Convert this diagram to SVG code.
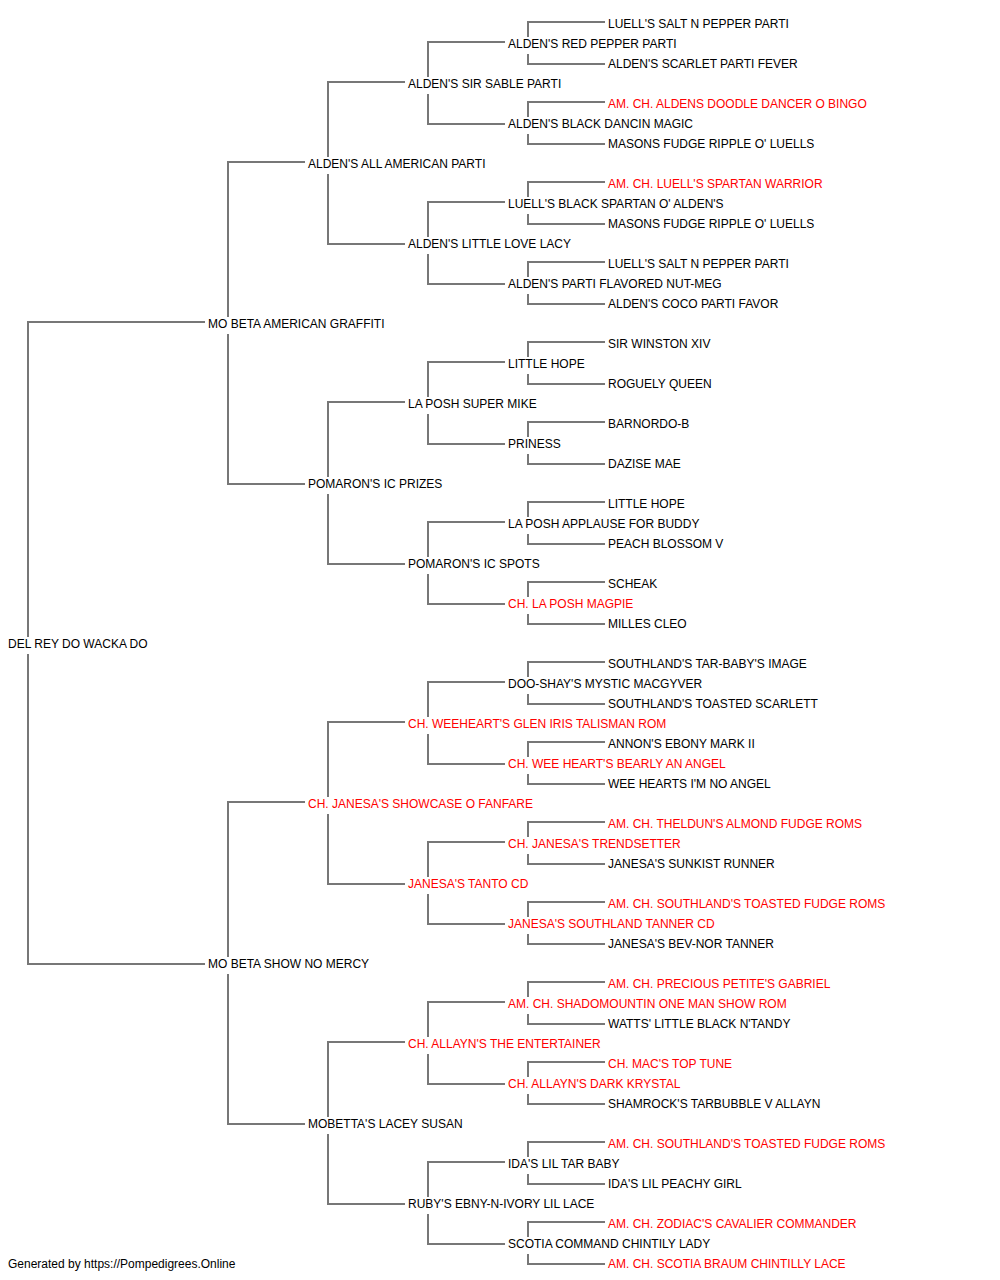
<svg xmlns="http://www.w3.org/2000/svg" width="1000" height="1280" viewBox="0 0 1000 1280">
<style>
text{font-family:"Liberation Sans",Arial,sans-serif;font-size:12px;fill:#000}
text.ch{fill:#ff0000}
.ln{fill:none;stroke:#777;stroke-width:2}
</style>
<rect width="1000" height="1280" fill="#fff"/>
<g id="connectors" class="ln">
<path d="M205 322H28V637M28 654V964H205"/>
<path d="M305 162H228V317M228 334V484H305"/>
<path d="M305 802H228V957M228 974V1124H305"/>
<path d="M405 82H328V157M328 174V244H405"/>
<path d="M405 402H328V477M328 494V564H405"/>
<path d="M405 722H328V797M328 814V884H405"/>
<path d="M405 1042H328V1117M328 1134V1204H405"/>
<path d="M505 42H428V77M428 94V124H505"/>
<path d="M505 202H428V237M428 254V284H505"/>
<path d="M505 362H428V397M428 414V444H505"/>
<path d="M505 522H428V557M428 574V604H505"/>
<path d="M505 682H428V717M428 734V764H505"/>
<path d="M505 842H428V877M428 894V924H505"/>
<path d="M505 1002H428V1037M428 1054V1084H505"/>
<path d="M505 1162H428V1197M428 1214V1244H505"/>
<path d="M605 22H528V37M528 54V64H605"/>
<path d="M605 102H528V117M528 134V144H605"/>
<path d="M605 182H528V197M528 214V224H605"/>
<path d="M605 262H528V277M528 294V304H605"/>
<path d="M605 342H528V357M528 374V384H605"/>
<path d="M605 422H528V437M528 454V464H605"/>
<path d="M605 502H528V517M528 534V544H605"/>
<path d="M605 582H528V597M528 614V624H605"/>
<path d="M605 662H528V677M528 694V704H605"/>
<path d="M605 742H528V757M528 774V784H605"/>
<path d="M605 822H528V837M528 854V864H605"/>
<path d="M605 902H528V917M528 934V944H605"/>
<path d="M605 982H528V997M528 1014V1024H605"/>
<path d="M605 1062H528V1077M528 1094V1104H605"/>
<path d="M605 1142H528V1157M528 1174V1184H605"/>
<path d="M605 1222H528V1237M528 1254V1264H605"/>
</g>
<g id="n0"><text x="8" y="648">DEL REY DO WACKA DO</text></g>
<g id="n1"><text x="208" y="328">MO BETA AMERICAN GRAFFITI</text></g>
<g id="n2"><text x="208" y="968">MO BETA SHOW NO MERCY</text></g>
<g id="n3"><text x="308" y="168">ALDEN'S ALL AMERICAN PARTI</text></g>
<g id="n4"><text x="308" y="488">POMARON'S IC PRIZES</text></g>
<g id="n5"><text x="308" y="808" class="ch">CH. JANESA'S SHOWCASE O FANFARE</text></g>
<g id="n6"><text x="308" y="1128">MOBETTA'S LACEY SUSAN</text></g>
<g id="n7"><text x="408" y="88">ALDEN'S SIR SABLE PARTI</text></g>
<g id="n8"><text x="408" y="248">ALDEN'S LITTLE LOVE LACY</text></g>
<g id="n9"><text x="408" y="408">LA POSH SUPER MIKE</text></g>
<g id="n10"><text x="408" y="568">POMARON'S IC SPOTS</text></g>
<g id="n11"><text x="408" y="728" class="ch">CH. WEEHEART'S GLEN IRIS TALISMAN ROM</text></g>
<g id="n12"><text x="408" y="888" class="ch">JANESA'S TANTO CD</text></g>
<g id="n13"><text x="408" y="1048" class="ch">CH. ALLAYN'S THE ENTERTAINER</text></g>
<g id="n14"><text x="408" y="1208">RUBY'S EBNY-N-IVORY LIL LACE</text></g>
<g id="n15"><text x="508" y="48">ALDEN'S RED PEPPER PARTI</text></g>
<g id="n16"><text x="508" y="128">ALDEN'S BLACK DANCIN MAGIC</text></g>
<g id="n17"><text x="508" y="208">LUELL'S BLACK SPARTAN O' ALDEN'S</text></g>
<g id="n18"><text x="508" y="288">ALDEN'S PARTI FLAVORED NUT-MEG</text></g>
<g id="n19"><text x="508" y="368">LITTLE HOPE</text></g>
<g id="n20"><text x="508" y="448">PRINESS</text></g>
<g id="n21"><text x="508" y="528">LA POSH APPLAUSE FOR BUDDY</text></g>
<g id="n22"><text x="508" y="608" class="ch">CH. LA POSH MAGPIE</text></g>
<g id="n23"><text x="508" y="688">DOO-SHAY'S MYSTIC MACGYVER</text></g>
<g id="n24"><text x="508" y="768" class="ch">CH. WEE HEART'S BEARLY AN ANGEL</text></g>
<g id="n25"><text x="508" y="848" class="ch">CH. JANESA'S TRENDSETTER</text></g>
<g id="n26"><text x="508" y="928" class="ch">JANESA'S SOUTHLAND TANNER CD</text></g>
<g id="n27"><text x="508" y="1008" class="ch">AM. CH. SHADOMOUNTIN ONE MAN SHOW ROM</text></g>
<g id="n28"><text x="508" y="1088" class="ch">CH. ALLAYN'S DARK KRYSTAL</text></g>
<g id="n29"><text x="508" y="1168">IDA'S LIL TAR BABY</text></g>
<g id="n30"><text x="508" y="1248">SCOTIA COMMAND CHINTILY LADY</text></g>
<g id="n31"><text x="608" y="28">LUELL'S SALT N PEPPER PARTI</text></g>
<g id="n32"><text x="608" y="68">ALDEN'S SCARLET PARTI FEVER</text></g>
<g id="n33"><text x="608" y="108" class="ch">AM. CH. ALDENS DOODLE DANCER O BINGO</text></g>
<g id="n34"><text x="608" y="148">MASONS FUDGE RIPPLE O' LUELLS</text></g>
<g id="n35"><text x="608" y="188" class="ch">AM. CH. LUELL'S SPARTAN WARRIOR</text></g>
<g id="n36"><text x="608" y="228">MASONS FUDGE RIPPLE O' LUELLS</text></g>
<g id="n37"><text x="608" y="268">LUELL'S SALT N PEPPER PARTI</text></g>
<g id="n38"><text x="608" y="308">ALDEN'S COCO PARTI FAVOR</text></g>
<g id="n39"><text x="608" y="348">SIR WINSTON XIV</text></g>
<g id="n40"><text x="608" y="388">ROGUELY QUEEN</text></g>
<g id="n41"><text x="608" y="428">BARNORDO-B</text></g>
<g id="n42"><text x="608" y="468">DAZISE MAE</text></g>
<g id="n43"><text x="608" y="508">LITTLE HOPE</text></g>
<g id="n44"><text x="608" y="548">PEACH BLOSSOM V</text></g>
<g id="n45"><text x="608" y="588">SCHEAK</text></g>
<g id="n46"><text x="608" y="628">MILLES CLEO</text></g>
<g id="n47"><text x="608" y="668">SOUTHLAND'S TAR-BABY'S IMAGE</text></g>
<g id="n48"><text x="608" y="708">SOUTHLAND'S TOASTED SCARLETT</text></g>
<g id="n49"><text x="608" y="748">ANNON'S EBONY MARK II</text></g>
<g id="n50"><text x="608" y="788">WEE HEARTS I'M NO ANGEL</text></g>
<g id="n51"><text x="608" y="828" class="ch">AM. CH. THELDUN'S ALMOND FUDGE ROMS</text></g>
<g id="n52"><text x="608" y="868">JANESA'S SUNKIST RUNNER</text></g>
<g id="n53"><text x="608" y="908" class="ch">AM. CH. SOUTHLAND'S TOASTED FUDGE ROMS</text></g>
<g id="n54"><text x="608" y="948">JANESA'S BEV-NOR TANNER</text></g>
<g id="n55"><text x="608" y="988" class="ch">AM. CH. PRECIOUS PETITE'S GABRIEL</text></g>
<g id="n56"><text x="608" y="1028">WATTS' LITTLE BLACK N'TANDY</text></g>
<g id="n57"><text x="608" y="1068" class="ch">CH. MAC'S TOP TUNE</text></g>
<g id="n58"><text x="608" y="1108">SHAMROCK'S TARBUBBLE V ALLAYN</text></g>
<g id="n59"><text x="608" y="1148" class="ch">AM. CH. SOUTHLAND'S TOASTED FUDGE ROMS</text></g>
<g id="n60"><text x="608" y="1188">IDA'S LIL PEACHY GIRL</text></g>
<g id="n61"><text x="608" y="1228" class="ch">AM. CH. ZODIAC'S CAVALIER COMMANDER</text></g>
<g id="n62"><text x="608" y="1268" class="ch">AM. CH. SCOTIA BRAUM CHINTILLY LACE</text></g>
<g id="footer"><text x="8" y="1268">Generated by https://Pompedigrees.Online</text></g>
</svg>
